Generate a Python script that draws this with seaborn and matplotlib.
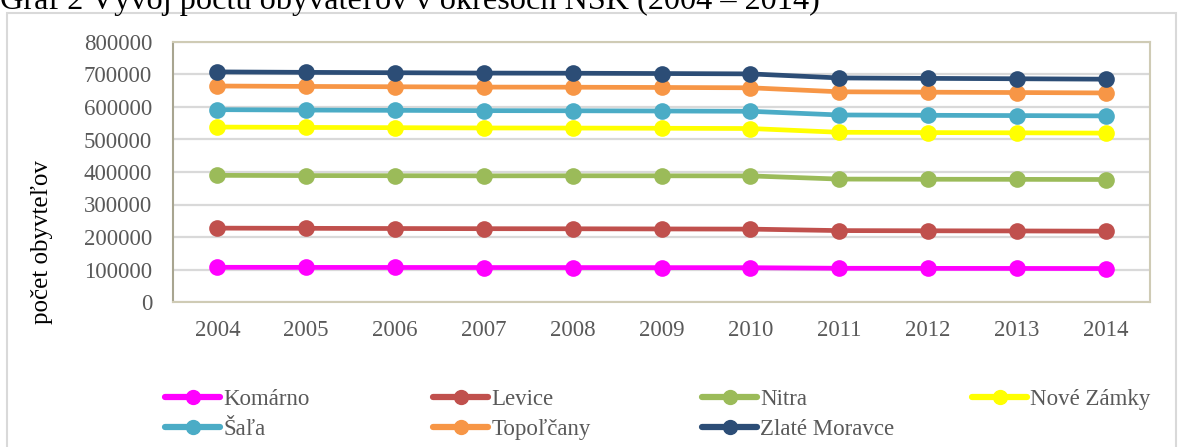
import numpy as np
import pandas as pd
import seaborn as sns
import matplotlib.pyplot as plt
from matplotlib.patches import Rectangle

# počet obyvateľov podľa okresov (graf je skladaný - hodnoty sa sčítavajú)
years = [2004, 2005, 2006, 2007, 2008, 2009, 2010, 2011, 2012, 2013, 2014]
districts = ["Komárno", "Levice", "Nitra", "Nové Zámky", "Šaľa", "Topoľčany", "Zlaté Moravce"]
komarno = [106800, 106500, 106300, 106100, 106000, 105800, 105600, 103800, 103500, 103300, 103000]
levice = [120500, 120200, 119800, 119500, 119300, 119000, 118700, 115900, 115600, 115300, 114900]
nitra = [162400, 162300, 162500, 162600, 163100, 163500, 163700, 158500, 158600, 158800, 159000]
nove_zamky = [148600, 148200, 147800, 147300, 146800, 146300, 145800, 144000, 143600, 143200, 142800]
sala = [53500, 53400, 53300, 53300, 53200, 53100, 53000, 53300, 53200, 53000, 52900]
topolcany = [72800, 72700, 72600, 72500, 72500, 72400, 72300, 71300, 71100, 70900, 70700]
zlate_moravce = [43400, 43300, 43200, 43100, 43000, 42900, 42800, 42600, 42500, 42400, 42300]
colors = ["#FF00FF", "#C0504D", "#9BBB59", "#FFFF00", "#4BACC6", "#F79646", "#2C4D76"]

wide = pd.DataFrame({"rok": years, "Komárno": komarno, "Levice": levice, "Nitra": nitra,
                     "Nové Zámky": nove_zamky, "Šaľa": sala, "Topoľčany": topolcany,
                     "Zlaté Moravce": zlate_moravce})
stacked = wide.set_index("rok")[districts].cumsum(axis=1).reset_index()
df = stacked.melt(id_vars="rok", var_name="okres", value_name="pocet")

sns.set_style("white")
plt.rcParams["font.family"] = ["Liberation Serif", "DejaVu Serif"]

fig = plt.figure(figsize=(11.84, 4.47), dpi=100)
ax = fig.add_axes([173 / 1184, 1 - 302 / 447, 977 / 1184, 260 / 447])

sns.lineplot(data=df, x="rok", y="pocet", hue="okres", hue_order=districts,
             palette=colors, marker="o", markersize=12, markeredgewidth=0,
             linewidth=3.4, legend=False, ax=ax)

ax.set_xlim(years[0] - 0.5, years[-1] + 0.5)
ax.set_ylim(0, 800000)
ax.set_xticks(years)
ax.set_xticklabels([str(y) for y in years])
ax.set_yticks(np.arange(0, 800001, 100000))
ax.set_yticklabels([str(v) for v in range(0, 800001, 100000)])
ax.tick_params(axis="both", length=0, labelsize=16.5, colors="#595959")
ax.tick_params(axis="x", pad=13)
ax.tick_params(axis="y", pad=15)
ax.yaxis.grid(True, color="#D9D9D9", linewidth=1.6)
ax.set_axisbelow(True)
ax.set_xlabel("")
ax.set_ylabel("")
for side in ["top", "right", "bottom"]:
    ax.spines[side].set_color("#CFCBB5")
    ax.spines[side].set_linewidth(1.5)
ax.spines["left"].set_color("#A8A590")
ax.spines["left"].set_linewidth(1.5)

fig.text(42 / 1184, 1 - 242 / 447, "počet obyvteľov", rotation=90, fontsize=18,
         ha="center", va="center", color="black")

# nadpis - zhora orezaný
fig.text(0.0, 1 - 9 / 447, "Graf 2 Vývoj počtu obyvateľov v okresoch NSK (2004 – 2014)",
         fontsize=23.2, ha="left", va="baseline", color="black")

# rámik grafu
fig.patches.append(Rectangle((7 / 1184, -0.02), 1169 / 1184, 1.02 - 13 / 447,
                             transform=fig.transFigure, fill=False,
                             edgecolor="#D9D9D9", linewidth=1.5))

# legenda - 4 stĺpce s rovnakým rozostupom
handles = {name: line for name, line in zip(districts, ax.get_lines())}
columns = [["Komárno", "Šaľa"], ["Levice", "Topoľčany"], ["Nitra", "Zlaté Moravce"], ["Nové Zámky"]]
col_x = [165, 433, 702, 972]
for names, x0 in zip(columns, col_x):
    hs = [plt.Line2D([], [], color=handles[n].get_color(), linewidth=4.5,
                     marker="o", markersize=10) for n in names]
    leg = fig.legend(hs, names, loc="upper left", bbox_to_anchor=(x0 / 1184, 1 - 389 / 447),
                     frameon=False, fontsize=16.5, handlelength=2.4, handletextpad=0.15,
                     labelspacing=0.38, borderaxespad=0, borderpad=0)
    for t in leg.get_texts():
        t.set_color("#595959")

fig.savefig("out.png", dpi=100)
